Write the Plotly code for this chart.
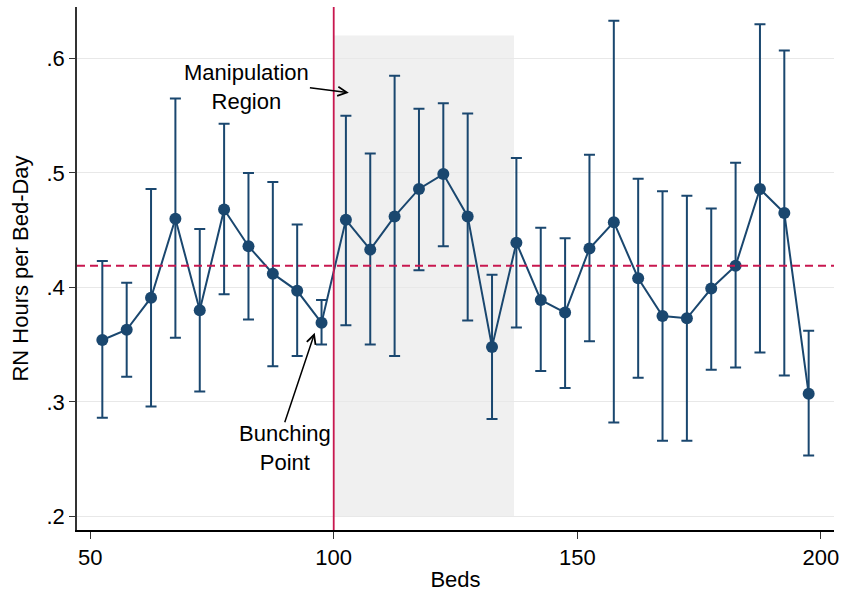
import plotly.graph_objects as go

beds = [52.5, 57.5, 62.5, 67.5, 72.5, 77.5, 82.5, 87.5, 92.5, 97.5,
        102.5, 107.5, 112.5, 117.5, 122.5, 127.5, 132.5, 137.5, 142.5, 147.5,
        152.5, 157.5, 162.5, 167.5, 172.5, 177.5, 182.5, 187.5, 192.5, 197.5]
rn_hours = [0.354, 0.363, 0.391, 0.460, 0.380, 0.468, 0.436, 0.412, 0.397, 0.369,
            0.459, 0.433, 0.462, 0.486, 0.499, 0.462, 0.348, 0.439, 0.389, 0.378,
            0.434, 0.457, 0.408, 0.375, 0.373, 0.399, 0.419, 0.486, 0.465, 0.307]
ci_upper = [0.423, 0.404, 0.486, 0.565, 0.451, 0.543, 0.500, 0.492, 0.455, 0.389,
            0.550, 0.517, 0.585, 0.556, 0.561, 0.552, 0.411, 0.513, 0.452, 0.443,
            0.516, 0.633, 0.495, 0.484, 0.480, 0.469, 0.509, 0.630, 0.607, 0.362]
ci_lower = [0.286, 0.322, 0.296, 0.356, 0.309, 0.394, 0.372, 0.331, 0.340, 0.350,
            0.367, 0.350, 0.340, 0.415, 0.436, 0.371, 0.285, 0.365, 0.327, 0.312,
            0.353, 0.282, 0.321, 0.266, 0.266, 0.328, 0.330, 0.343, 0.323, 0.253]
mean_line = 0.419
threshold = 100
region_end = 137
region_top = 0.62
region_bottom = 0.2
y_ticks = [0.2, 0.3, 0.4, 0.5, 0.6]
y_tick_labels = [".2", ".3", ".4", ".5", ".6"]
x_ticks = [50, 100, 150, 200]

navy = "#1a476f"
red = "#c8174f"

err_plus = [u - v for u, v in zip(ci_upper, rn_hours)]
err_minus = [v - l for v, l in zip(rn_hours, ci_lower)]

fig = go.Figure()
fig.add_trace(go.Scatter(
    x=beds, y=rn_hours, mode="lines+markers",
    line=dict(color=navy, width=2),
    marker=dict(color=navy, size=12),
    error_y=dict(type="data", symmetric=False, array=err_plus, arrayminus=err_minus,
                 color=navy, thickness=2, width=5.5),
    showlegend=False,
))

fig.add_shape(type="rect", xref="x", yref="y", x0=threshold, x1=region_end,
              y0=region_bottom, y1=region_top, fillcolor="#f0f0f0",
              line=dict(width=0), layer="below")
fig.add_shape(type="line", xref="x", yref="paper", x0=threshold, x1=threshold,
              y0=0, y1=1, line=dict(color=red, width=1.8))
fig.add_shape(type="line", xref="paper", yref="y", x0=0, x1=1,
              y0=mean_line, y1=mean_line, line=dict(color=red, width=2, dash="8px,5px"))

fig.add_annotation(x=103.1, y=0.570, ax=94.8, ay=0.5747, xref="x", yref="y",
                   axref="x", ayref="y", text="", showarrow=True,
                   arrowhead=5, arrowsize=1.2, arrowwidth=1.5, arrowcolor="black")
fig.add_annotation(x=82.0, y=0.5747, xref="x", yref="y", text="Manipulation<br>Region",
                   showarrow=False, font=dict(size=22, color="black"), align="center")
fig.add_annotation(x=96.1, y=0.3603, ax=89.85, ay=0.2808, xref="x", yref="y",
                   axref="x", ayref="y", text="", showarrow=True,
                   arrowhead=5, arrowsize=1.2, arrowwidth=1.5, arrowcolor="black")
fig.add_annotation(x=90.06, y=0.2597, xref="x", yref="y", text="Bunching<br>Point",
                   showarrow=False, font=dict(size=22, color="black"), align="center")

fig.update_layout(
    width=845, height=594,
    margin=dict(l=77, r=6, t=7, b=60),
    plot_bgcolor="white", paper_bgcolor="white",
    font=dict(family="Liberation Sans, Arial, sans-serif", size=22, color="black"),
    xaxis=dict(range=[47.3, 202.7], tickvals=x_ticks, showgrid=False, zeroline=False,
               showline=True, linecolor="black", linewidth=1.5, ticks="outside",
               ticklen=7, tickcolor="#333", tickfont=dict(size=22),
               title=dict(text="Beds", font=dict(size=22), standoff=2)),
    yaxis=dict(range=[0.188, 0.645], tickvals=y_ticks, ticktext=y_tick_labels,
               showgrid=True, gridcolor="#e8e8e8", gridwidth=1, zeroline=False,
               showline=True, linecolor="#333", linewidth=1.5, ticks="outside",
               ticklen=6, tickcolor="#333", tickfont=dict(size=22),
               title=dict(text="RN Hours per Bed-Day", font=dict(size=22), standoff=12)),
)

fig.write_html("out.html", config={"displayModeBar": False},
               post_script="document.body.style.margin='0px';")
